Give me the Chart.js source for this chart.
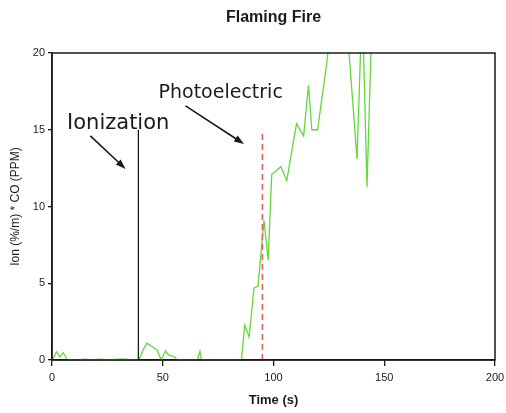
<!DOCTYPE html>
<html>
<head>
<meta charset="utf-8">
<script src="https://cdn.jsdelivr.net/npm/chart.js@4/dist/chart.umd.min.js"></script>
<style>
  html, body { margin: 0; padding: 0; background: #fff; }
  #wrap { width: 506px; height: 413px; }
</style>
</head>
<body>
<div id="wrap"><canvas id="fireChart" width="506" height="413"></canvas></div>
<script>
// time (s) and Ion*CO readings
const times = [0.6, 2, 3.6, 5.1, 7, 12, 15, 18, 22, 26, 30, 33, 36, 39.2, 41, 42.8, 45, 47.5, 49.3, 51.3, 52.5, 54, 55, 56.5,
  65.6, 66.8, 67.5, 85.5, 87, 89, 91.2, 93, 95.7, 97.6, 99.2, 101, 103.3, 106, 110.4, 113.6, 115.8, 117.3, 119.9,
  124, 127, 131, 134, 137.7, 139.5, 140.5, 142.2, 144.2, 146];
const ionCO = [0.1, 0.54, 0.2, 0.47, 0, 0, 0.05, 0, 0.05, 0, 0.05, 0.05, 0, 0, 0.6, 1.1, 0.9, 0.65, 0, 0.6, 0.35, 0.25, 0.25, 0,
  0, 0.55, 0, 0, 2.27, 1.5, 4.7, 4.8, 9.1, 6.5, 12.1, 12.3, 12.6, 11.7, 15.4, 14.6, 17.9, 15, 15,
  19.3, 23, 24, 20.2, 13.1, 21, 21, 11.25, 21, 30];

// alarm times
const ionizationTime = 39;
const photoTime = 95;
const alarmTop = 15;

const xTicks = [0, 50, 100, 150, 200];
const yTicks = [0, 5, 10, 15, 20];

const fontFam = "'Liberation Sans', Arial, sans-serif";
const ink = "#1a1a1a";

const points = times.map((t, i) => ({ x: t, y: ionCO[i] }));

// frame, title and the two labelled arrows
const extras = {
  id: "extras",
  afterDatasetsDraw(chart) {
    const { ctx, chartArea: a } = chart;
    const xs = chart.scales.x, ys = chart.scales.y;
    const px = (t, v) => [xs.getPixelForValue(t), ys.getPixelForValue(v)];
    ctx.save();
    ctx.strokeStyle = ink;
    ctx.lineWidth = 1.5;
    ctx.strokeRect(a.left, a.top, a.right - a.left, a.bottom - a.top);

    ctx.fillStyle = ink;
    ctx.font = "bold 16px " + fontFam;
    ctx.textAlign = "center";
    ctx.textBaseline = "middle";
    ctx.fillText("Flaming Fire", (a.left + a.right) / 2, 18);

    ctx.textAlign = "left";
    ctx.textBaseline = "alphabetic";
    ctx.font = "21px 'DejaVu Sans', sans-serif";
    let p = px(6.8, 15.05);
    ctx.fillText("Ionization", p[0], p[1]);
    ctx.font = "19px 'DejaVu Sans', sans-serif";
    p = px(48.1, 17.06);
    ctx.fillText("Photoelectric", p[0], p[1]);

    const arrow = (t1, v1, t2, v2) => {
      const [x1, y1] = px(t1, v1), [x2, y2] = px(t2, v2);
      const ang = Math.atan2(y2 - y1, x2 - x1);
      ctx.beginPath();
      ctx.moveTo(x1, y1);
      ctx.lineTo(x2 - 6 * Math.cos(ang), y2 - 6 * Math.sin(ang));
      ctx.lineWidth = 1.6;
      ctx.stroke();
      ctx.beginPath();
      ctx.moveTo(x2, y2);
      ctx.lineTo(x2 - 10 * Math.cos(ang) + 3.5 * Math.sin(ang), y2 - 10 * Math.sin(ang) - 3.5 * Math.cos(ang));
      ctx.lineTo(x2 - 10 * Math.cos(ang) - 3.5 * Math.sin(ang), y2 - 10 * Math.sin(ang) + 3.5 * Math.cos(ang));
      ctx.closePath();
      ctx.fill();
    };
    arrow(17.3, 14.6, 33.2, 12.45);
    arrow(60.3, 16.56, 86.7, 14.07);
    ctx.restore();
  }
};

new Chart(document.getElementById("fireChart").getContext("2d"), {
  type: "line",
  data: {
    datasets: [
      {
        data: points,
        borderColor: "#63d83c",
        borderWidth: 1.3,
        pointRadius: 0,
        tension: 0,
        order: 3
      },
      {
        data: [{ x: ionizationTime, y: 0 }, { x: ionizationTime, y: alarmTop }],
        borderColor: ink,
        borderWidth: 1.3,
        pointRadius: 0,
        order: 1
      },
      {
        data: [{ x: photoTime, y: 0 }, { x: photoTime, y: alarmTop }],
        borderColor: "#e0605a",
        borderWidth: 1.6,
        borderDash: [6, 4],
        pointRadius: 0,
        order: 1
      }
    ]
  },
  options: {
    responsive: false,
    animation: false,
    layout: { padding: { top: 53, right: 11, bottom: 0, left: 0 } },
    plugins: { legend: { display: false }, tooltip: { enabled: false }, title: { display: false } },
    scales: {
      x: {
        type: "linear",
        min: 0,
        max: 200,
        afterBuildTicks: (s) => { s.ticks = xTicks.map(v => ({ value: v })); },
        afterFit: (s) => { s.height = 53; s.paddingRight = 0; s.paddingLeft = 0; },
        ticks: { color: ink, font: { family: fontFam, size: 11 }, padding: 5 },
        grid: { drawOnChartArea: false, tickLength: 6, color: ink, lineWidth: 1.3 },
        border: { color: ink, width: 1.5 },
        title: { display: true, text: "Time (s)", color: ink, font: { family: fontFam, size: 13, weight: "bold" }, padding: { top: 4, bottom: 5 } }
      },
      y: {
        min: 0,
        max: 20,
        afterBuildTicks: (s) => { s.ticks = yTicks.map(v => ({ value: v })); },
        afterFit: (s) => { s.width = 52; },
        ticks: { color: ink, font: { family: fontFam, size: 11 }, padding: 3 },
        grid: { drawOnChartArea: false, tickLength: 4, color: ink, lineWidth: 1.3 },
        border: { color: ink, width: 1.5 },
        title: { display: true, text: "Ion (%/m) * CO (PPM)", color: ink, font: { family: fontFam, size: 12 }, padding: { top: 8, bottom: 0 } }
      }
    }
  },
  plugins: [extras]
});
</script>
</body>
</html>
